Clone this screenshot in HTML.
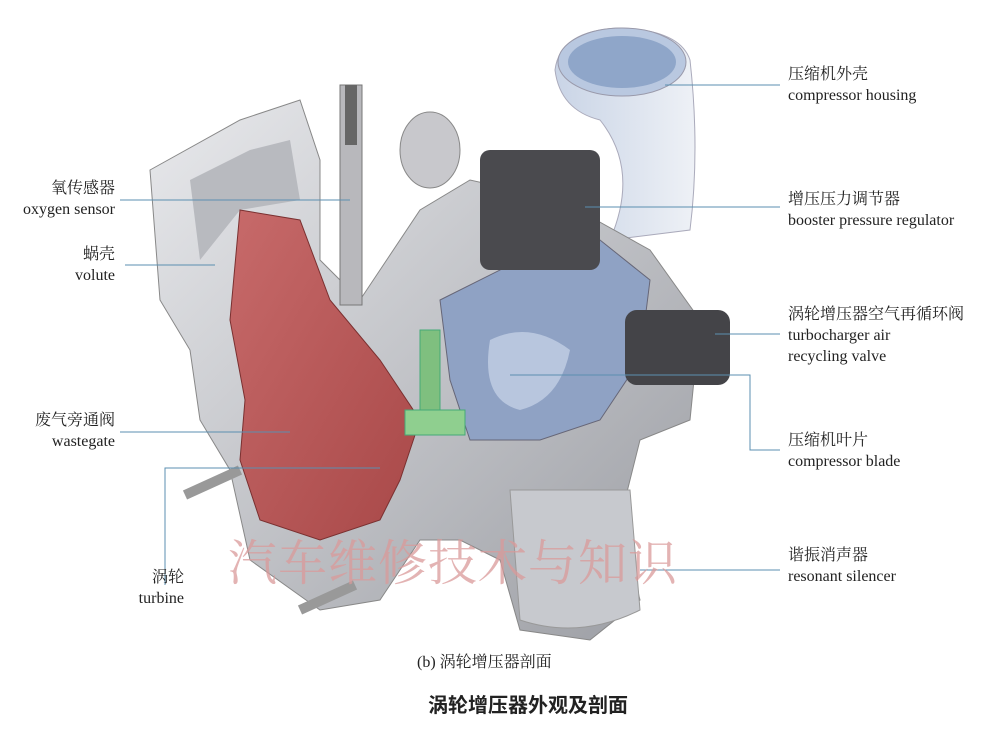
<!DOCTYPE html>
<html><head><meta charset="utf-8">
<style>
html,body{margin:0;padding:0;background:#fff;}
body{width:992px;height:739px;position:relative;overflow:hidden;font-family:"Liberation Serif","Noto Serif CJK SC",serif;color:#222;}
.l{position:absolute;font-size:16px;line-height:21px;white-space:nowrap;}
.r{text-align:right;}
</style></head><body>
<svg width="992" height="739" style="position:absolute;left:0;top:0">
<defs>
<linearGradient id="g1" x1="0" y1="0" x2="1" y2="1"><stop offset="0" stop-color="#e8e9ec"/><stop offset="1" stop-color="#9a9ca2"/></linearGradient>
<linearGradient id="g2" x1="0" y1="0" x2="1" y2="0"><stop offset="0" stop-color="#c9d4e6"/><stop offset="1" stop-color="#eef1f6"/></linearGradient>
<linearGradient id="gr" x1="0" y1="0" x2="1" y2="1"><stop offset="0" stop-color="#c76a6a"/><stop offset="1" stop-color="#a84848"/></linearGradient>
</defs>
<path d="M555,70 Q560,30 620,28 Q680,30 690,60 Q700,150 690,230 L610,240 Q640,170 600,120 Q560,110 555,70Z" fill="url(#g2)" stroke="#aab" />
<ellipse cx="622" cy="62" rx="64" ry="34" fill="#b9c8e0" stroke="#99a"/>
<ellipse cx="622" cy="62" rx="54" ry="26" fill="#8fa6c9"/>
<path d="M150,170 L240,120 L300,100 L320,160 L320,260 L360,300 L420,210 L470,180 L560,200 L650,250 L700,320 L690,420 L640,440 L620,520 L640,600 L590,640 L520,630 L500,560 L460,540 L420,540 L380,600 L320,610 L250,560 L230,470 L200,420 L190,350 L160,300 Z" fill="url(#g1)" stroke="#888"/>
<path d="M190,180 L250,150 L290,140 L300,200 L240,210 L200,260 Z" fill="#b8babf"/>
<path d="M240,210 L300,220 L330,300 L380,360 L420,420 L400,480 L380,520 L320,540 L260,520 L240,460 L245,400 L230,320 Z" fill="url(#gr)" stroke="#7a3030"/>
<path d="M440,300 L520,260 L600,240 L650,280 L640,360 L600,420 L540,440 L470,440 L450,380 Z" fill="#8fa2c4" stroke="#667"/>
<path d="M490,340 Q530,320 570,350 Q560,400 520,410 Q480,400 490,340Z" fill="#b8c6de"/>
<rect x="420" y="330" width="20" height="100" fill="#7fbf7f" stroke="#4a7"/>
<rect x="405" y="410" width="60" height="25" fill="#8fcf8f" stroke="#4a7"/>
<rect x="480" y="150" width="120" height="120" rx="10" fill="#4a4a4e"/>
<ellipse cx="430" cy="150" rx="30" ry="38" fill="#c8c8cc" stroke="#888"/>
<rect x="625" y="310" width="105" height="75" rx="12" fill="#444448"/>
<path d="M510,490 L630,490 L640,610 Q580,640 520,620 Z" fill="#c7c9ce" stroke="#999"/>
<rect x="340" y="85" width="22" height="220" fill="#b8b8bc" stroke="#777"/>
<rect x="345" y="85" width="12" height="60" fill="#666"/>
<line x1="185" y1="495" x2="240" y2="470" stroke="#999" stroke-width="10"/>
<line x1="300" y1="610" x2="355" y2="585" stroke="#999" stroke-width="10"/>
<g stroke="#5b8fb0" stroke-width="1" fill="none">
<line x1="665" y1="85" x2="780" y2="85"/>
<line x1="585" y1="207" x2="780" y2="207"/>
<line x1="715" y1="334" x2="780" y2="334"/>
<polyline points="510,375 750,375 750,450 780,450"/>
<line x1="640" y1="570" x2="780" y2="570"/>
<line x1="120" y1="200" x2="350" y2="200"/>
<line x1="125" y1="265" x2="215" y2="265"/>
<line x1="120" y1="432" x2="290" y2="432"/>
<polyline points="380,468 165,468 165,585"/>
</g>
<text x="228" y="580" font-size="49" fill="#d99a9a" fill-opacity="0.75" font-family="Noto Serif CJK SC,serif" letter-spacing="1">汽车维修技术与知识</text>
</svg>
<div class="l" style="left:788px;top:64px">压缩机外壳<br>compressor housing</div>
<div class="l" style="left:788px;top:189px">增压压力调节器<br>booster pressure regulator</div>
<div class="l" style="left:788px;top:304px">涡轮增压器空气再循环阀<br>turbocharger air<br>recycling valve</div>
<div class="l" style="left:788px;top:430px">压缩机叶片<br>compressor blade</div>
<div class="l" style="left:788px;top:545px">谐振消声器<br>resonant silencer</div>
<div class="l r" style="right:877px;top:178px">氧传感器<br>oxygen sensor</div>
<div class="l r" style="right:877px;top:244px">蜗壳<br>volute</div>
<div class="l r" style="right:877px;top:410px">废气旁通阀<br>wastegate</div>
<div class="l r" style="right:808px;top:567px">涡轮<br>turbine</div>
<div class="l" style="left:417px;top:652px;font-size:16px">(b) 涡轮增压器剖面</div>
<div class="l" style="left:428px;top:696px;font-size:20px;font-weight:bold;font-family:'Liberation Sans','Noto Sans CJK SC',sans-serif">涡轮增压器外观及剖面</div>
</body></html>
